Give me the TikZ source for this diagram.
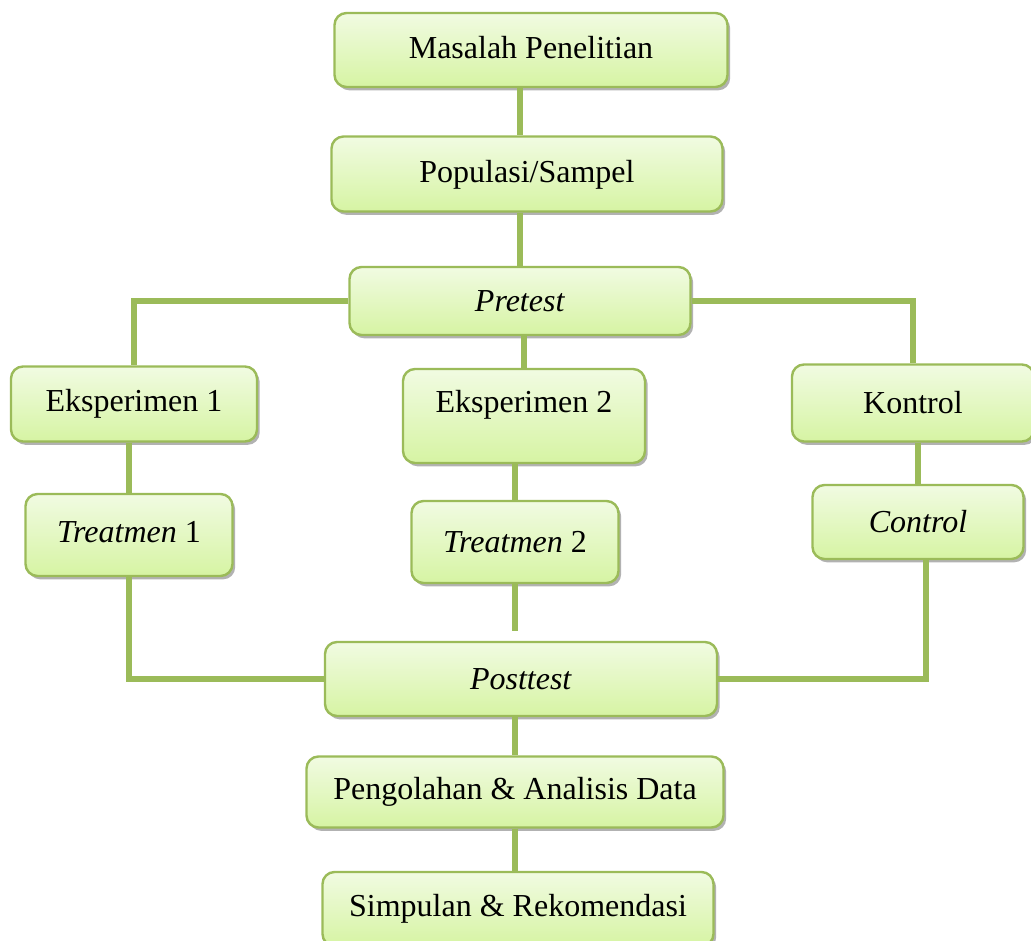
\documentclass[tikz,border=0pt]{standalone}
\usepackage{fontspec}
\setmainfont{Liberation Serif}
\usepackage{tikz}
\usetikzlibrary{shadows}
\definecolor{hijau}{RGB}{155,187,89}
\definecolor{hijauatas}{RGB}{241,251,226}
\definecolor{hijaubawah}{RGB}{214,244,163}

\begin{document}
\begin{tikzpicture}[x=0.75pt,y=-0.75pt,
    kotak/.style={draw=hijau,line width=1.8pt,rounded corners=9pt,
        top color=hijauatas,bottom color=hijaubawah,
        drop shadow={shadow xshift=2pt,shadow yshift=-2.5pt,opacity=0.3,fill=black},
        font=\fontsize{24}{29}\selectfont,inner sep=0pt},
    ukuran/.style 2 args={minimum width=#1*0.75pt,minimum height=#2*0.75pt},
    garis/.style={draw=hijau,line width=4.5pt}]
        \useasboundingbox (0,0) rectangle (1031,941);
        % kotak-kotak
        \node [kotak,ukuran={393}{74},text depth=4pt] (masalah) at (531,50) {Masalah Penelitian};
        \node [kotak,ukuran={391}{75},text depth=4pt] (populasi) at (527,174) {Populasi/Sampel};
        \node [kotak,ukuran={341}{68}] (pretest) at (520,301) {\textit{Pretest}};
        \node [kotak,ukuran={246}{75}] (eks1) at (134,404) {Eksperimen 1};
        \node [kotak,ukuran={242}{94},text depth=22pt] (eks2) at (524,416) {Eksperimen 2};
        \node [kotak,ukuran={242}{77}] (kontrol) at (913,403) {Kontrol};
        \node [kotak,ukuran={207}{82},text depth=4pt] (treat1) at (129,535) {\textit{Treatmen} 1};
        \node [kotak,ukuran={207}{82}] (treat2) at (515,542) {\textit{Treatmen} 2};
        \node [kotak,ukuran={211}{74}] (control) at (918,522) {\textit{Control}};
        \node [kotak,ukuran={392}{74}] (posttest) at (521,679) {\textit{Posttest}};
        \node [kotak,ukuran={417}{71}] (olah) at (515,792) {Pengolahan \& Analisis Data};
        \node [kotak,ukuran={391}{74}] (simpulan) at (518,909) {Simpulan \& Rekomendasi};
        % garis penghubung
        \draw [garis] (masalah.south -| pretest) -- (populasi.north -| pretest);
        \draw [garis] (populasi.south -| pretest) -- (pretest.north);
        \draw [garis] (pretest.west) -| (eks1.north);
        \draw [garis] (pretest.east) -| (kontrol.north);
        \draw [garis] (pretest.south -| eks2) -- (eks2.north);
        \draw [garis] (eks1.south -| treat1) -- (treat1.north);
        \draw [garis] (eks2.south -| treat2) -- (treat2.north);
        \draw [garis] (kontrol.south -| control) -- (control.north);
        \draw [garis] (treat1.south) |- (posttest.west);
        \draw [garis,shorten >=7pt] (treat2.south) -- (posttest.north -| treat2);
        \draw [garis] ([xshift=6pt]control.south) |- (posttest.east);
        \draw [garis] (posttest.south -| olah) -- (olah.north);
        \draw [garis] (olah.south) -- (simpulan.north -| olah);
    \end{tikzpicture}
\end{document}
